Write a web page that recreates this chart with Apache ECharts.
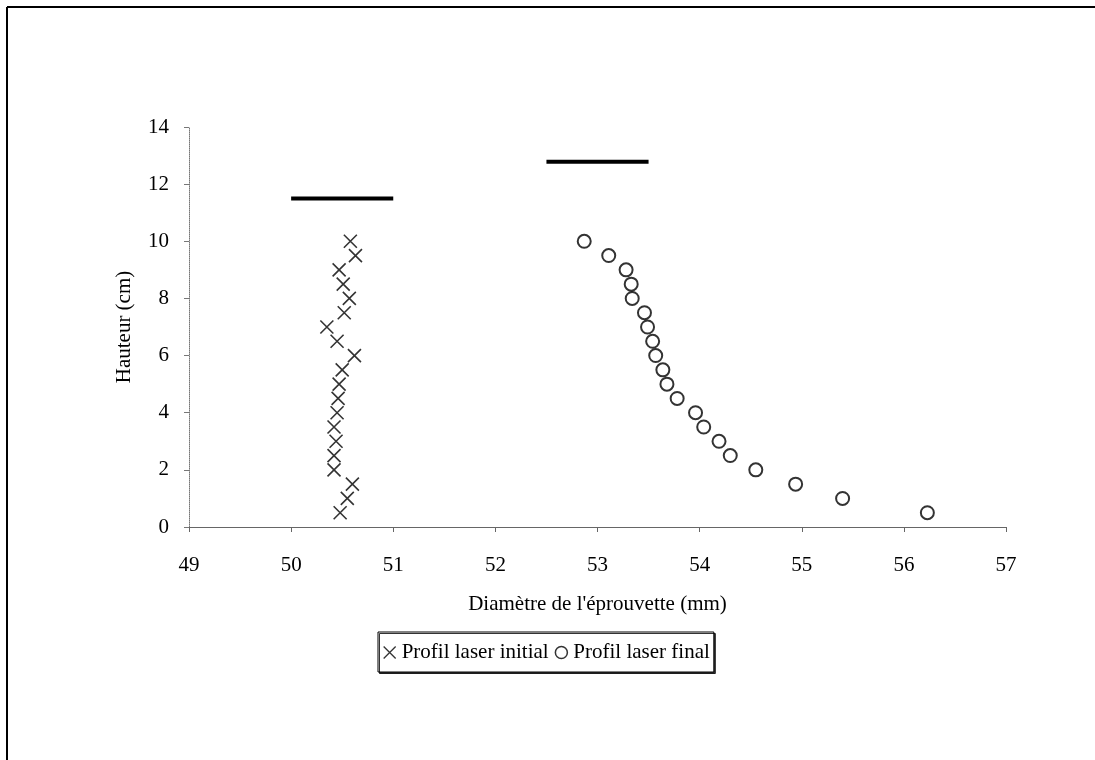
<!DOCTYPE html>
<html>
<head>
<meta charset="utf-8">
<script src="https://cdn.jsdelivr.net/npm/echarts@6/dist/echarts.min.js"></script>
<style>
html,body{margin:0;padding:0;background:#fff;}
#chart{width:1095px;height:760px;}
</style>
</head>
<body>
<div id="chart"></div>
<script>
// Heights (cm)
var heights = [0.5, 1, 1.5, 2, 2.5, 3, 3.5, 4, 4.5, 5, 5.5, 6, 6.5, 7, 7.5, 8, 8.5, 9, 9.5, 10];
// Initial laser profile diameters (mm)
var initialDiam = [50.48, 50.55, 50.60, 50.42, 50.42, 50.44, 50.42, 50.45, 50.46, 50.47, 50.50, 50.62, 50.45, 50.35, 50.52, 50.57, 50.51, 50.47, 50.63, 50.58];
// Final laser profile diameters (mm)
var finalDiam = [56.23, 55.40, 54.94, 54.55, 54.30, 54.19, 54.04, 53.96, 53.78, 53.68, 53.64, 53.57, 53.54, 53.49, 53.46, 53.34, 53.33, 53.28, 53.11, 52.87];
// Horizontal reference segments [x, y]
var initialTop = [[50, 11.5], [51, 11.5]];
var finalTop = [[52.5, 12.78], [53.5, 12.78]];
var xTicks = [49, 50, 51, 52, 53, 54, 55, 56, 57];
var yTicks = [0, 2, 4, 6, 8, 10, 12, 14];

var serif = '"Liberation Serif","Times New Roman",serif';
var crossPath = 'path://M0,0L10,10M10,0L0,10';
var circlePath = 'path://M10,5A5,5 0 1,1 0,5A5,5 0 1,1 10,5Z';

function pairs(xs, ys) { return xs.map(function (x, i) { return [x, ys[i]]; }); }

var chart = echarts.init(document.getElementById('chart'), null, { renderer: 'canvas' });
chart.setOption({
  backgroundColor: '#fff',
  animation: false,
  textStyle: { fontFamily: serif, color: '#000' },
  grid: { left: 189, right: 89, top: 127, bottom: 233 },
  graphic: [
    { type: 'line', shape: { x1: 7, y1: 7, x2: 1095, y2: 7 }, style: { stroke: '#000', lineWidth: 2 } },
    { type: 'line', shape: { x1: 7, y1: 7, x2: 7, y2: 760 }, style: { stroke: '#000', lineWidth: 2 } }
  ],
  xAxis: {
    type: 'value',
    min: xTicks[0], max: xTicks[xTicks.length - 1], interval: 1,
    name: "Diamètre de l'éprouvette (mm)",
    nameLocation: 'middle', nameGap: 67,
    nameTextStyle: { fontFamily: serif, fontSize: 21, color: '#000' },
    axisLine: { show: true, onZero: false, lineStyle: { color: '#666', width: 1 } },
    axisTick: { show: true, inside: false, length: 5, lineStyle: { color: '#666' } },
    axisLabel: { fontFamily: serif, fontSize: 21, color: '#000', margin: 28 },
    splitLine: { show: false }
  },
  yAxis: {
    type: 'value',
    min: yTicks[0], max: yTicks[yTicks.length - 1], interval: 2,
    name: 'Hauteur (cm)',
    nameLocation: 'middle', nameGap: 54,
    nameTextStyle: { fontFamily: serif, fontSize: 21, color: '#000' },
    axisLine: { show: true, lineStyle: { color: '#777', width: 1, type: 'dotted' } },
    axisTick: { show: true, inside: false, length: 5, lineStyle: { color: '#777' } },
    axisLabel: { fontFamily: serif, fontSize: 21, color: '#000', margin: 20 },
    splitLine: { show: false }
  },
  legend: {
    left: 378, top: 632,
    itemGap: 6, itemWidth: 12, itemHeight: 12,
    padding: [10, 4, 9, 5],
    borderColor: '#000', borderWidth: 1,
    backgroundColor: '#fff',
    shadowColor: 'rgba(0,0,0,0.8)', shadowOffsetX: 1.5, shadowOffsetY: 1.5, shadowBlur: 0,
    textStyle: { fontFamily: serif, fontSize: 21, color: '#000', padding: [0, 0, 0, 1] },
    data: [
      { name: 'Profil laser initial', icon: crossPath, itemStyle: { color: 'transparent', borderColor: '#000', borderWidth: 1.3 } },
      { name: 'Profil laser final', icon: circlePath, itemStyle: { color: 'transparent', borderColor: '#000', borderWidth: 1.5 } }
    ]
  },
  series: [
    {
      name: 'Profil laser initial', type: 'scatter',
      data: pairs(initialDiam, heights),
      symbol: crossPath, symbolSize: 13,
      itemStyle: { color: 'transparent', borderColor: '#000', borderWidth: 1.6 }
    },
    {
      name: 'Profil laser final', type: 'scatter',
      data: pairs(finalDiam, heights),
      symbol: 'circle', symbolSize: 13,
      itemStyle: { color: 'transparent', borderColor: '#000', borderWidth: 2 }
    },
    {
      name: 'seg1', type: 'line', data: initialTop, symbol: 'none',
      lineStyle: { color: '#000', width: 4 }, silent: true
    },
    {
      name: 'seg2', type: 'line', data: finalTop, symbol: 'none',
      lineStyle: { color: '#000', width: 4 }, silent: true
    }
  ]
});
</script>
</body>
</html>
